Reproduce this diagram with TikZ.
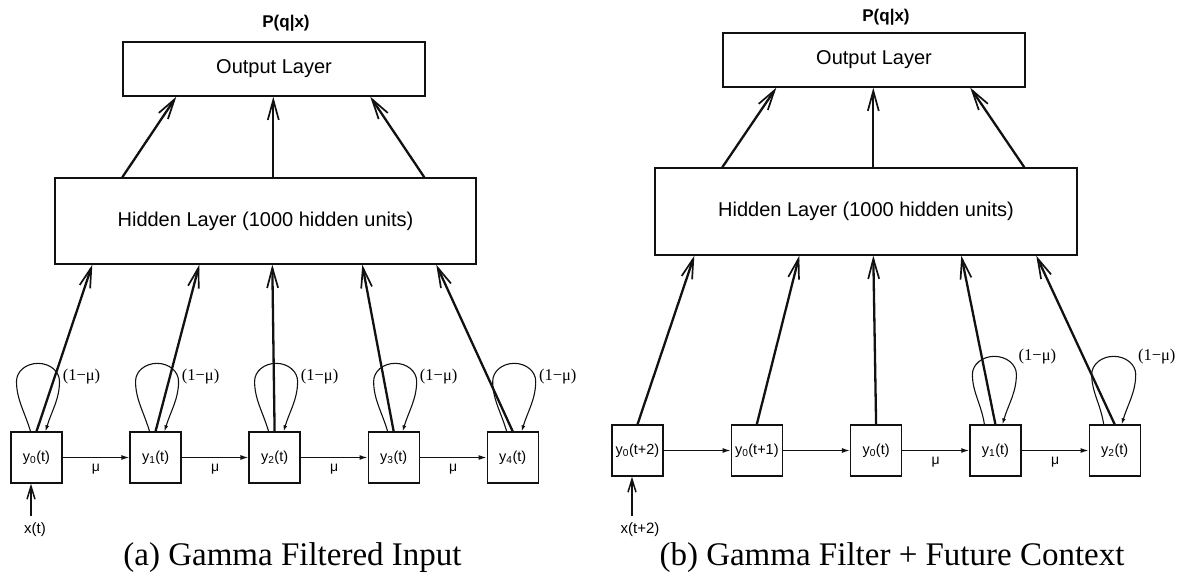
\documentclass[tikz,border=0pt]{standalone}
\usepackage{fontspec}
\setmainfont{Liberation Serif}
\setsansfont{Liberation Sans}
\usepackage{xcolor}
\definecolor{cInk}{HTML}{111111}
\usepackage{tikz}
\usetikzlibrary{positioning,arrows.meta}
\tikzset{
  layer-box/.style={draw=cInk,line width=1.4pt,inner sep=0pt,
    font=\sffamily\fontsize{20}{24}\selectfont},
  unit-box/.style={draw=cInk,line width=1.3pt,minimum size=51pt,inner sep=0pt,
    font=\sffamily\fontsize{14.5}{16}\selectfont},
  lbl-top/.style={font=\sffamily\bfseries\fontsize{17}{20}\selectfont},
  lbl-in/.style={font=\sffamily\fontsize{15}{18}\selectfont},
  lbl-mu/.style={font=\sffamily\fontsize{14}{15}\selectfont,inner sep=1pt},
  lbl-decay/.style={font=\fontsize{16.5}{18}\selectfont,inner sep=0pt},
  lbl-cap/.style={font=\fontsize{33}{38}\selectfont,inner sep=0pt,anchor=base},
  arrow-feed/.style={-{Straight Barb[length=20pt,width=11pt,line width=1.7pt]},
    line width=2.3pt,draw=cInk},
  arrow-in/.style={-{Straight Barb[length=13pt,width=8pt,line width=1.5pt]},
    line width=1.7pt,draw=cInk},
  arrow-delay/.style={-{Latex[length=8pt,width=5pt]},line width=1.3pt,draw=cInk},
  arrow-self/.style={-{Latex[length=6pt,width=4pt]},line width=1.1pt,draw=cInk},
}

\begin{document}
\begin{tikzpicture}[x=1pt,y=-1pt]
  \useasboundingbox (0,0) rectangle (1178,580);

  % (a) gamma filtered input
  \node[lbl-top] (pqa) at (286,23) {P(q|x)};
  \node[layer-box,minimum width=302pt,minimum height=54pt] (outa) at (274,69) {Output Layer};
  \node[layer-box,minimum width=421pt,minimum height=86pt] (hida) at (265.5,221)
    {Hidden Layer (1000 hidden units)};
  \node[unit-box] (y0a) at (36.5,457.5) {y\textsubscript{0}(t)};
  \node[unit-box,right=66.75pt of y0a] (y1a) {y\textsubscript{1}(t)};
  \node[unit-box,right=66.75pt of y1a] (y2a) {y\textsubscript{2}(t)};
  \node[unit-box,right=66.75pt of y2a] (y3a) {y\textsubscript{3}(t)};
  \node[unit-box,right=66.75pt of y3a] (y4a) {y\textsubscript{4}(t)};
  \node[lbl-in] (xa) at (35,530) {x(t)};
  \node[lbl-cap] (capa) at (292.5,565) {(a) Gamma Filtered Input};

  \foreach \s/\e in {68/54,219/151,370/248}
    \draw[arrow-feed] ([xshift=\s pt]hida.north west) -- ([xshift=\e pt]outa.south west);
  \foreach \u/\o in {y0a/38,y1a/145,y2a/218,y3a/308,y4a/382}
    \draw[arrow-feed] (\u.north) -- ([xshift=\o pt]hida.south west);
  \draw[arrow-delay] (y0a) -- node[lbl-mu,below=5pt] (m1a) {μ} (y1a);
  \draw[arrow-delay] (y1a) -- node[lbl-mu,below=5pt] (m2a) {μ} (y2a);
  \draw[arrow-delay] (y2a) -- node[lbl-mu,below=5pt] (m3a) {μ} (y3a);
  \draw[arrow-delay] (y3a) -- node[lbl-mu,below=5pt] (m4a) {μ} (y4a);
  \draw[arrow-in] ([xshift=-4pt,yshift=3pt]xa.north) -- ([xshift=-5.5pt]y0a.south);
  % self loops: teardrop, feet at -6/+9 from the box middle
  \foreach \u in {y0a,y1a,y2a,y3a,y4a} {
    \draw[arrow-self] ([xshift=-6pt]\u.north)
      .. controls +(-6,-20) and +(0,18) .. ([xshift=-20pt,yshift=50pt]\u.north)
      .. controls +(0,-10) and +(-12,0) .. ([xshift=1.5pt,yshift=68pt]\u.north)
      .. controls +(12,0) and +(0,-10) .. ([xshift=23pt,yshift=50pt]\u.north)
      .. controls +(0,18) and +(6,-20) .. ([xshift=9pt]\u.north);
    \node[lbl-decay] (d\u) at ([xshift=45pt,yshift=55pt]\u.north) {(1−μ)};
  }

  % (b) gamma filter + future context
  \node[lbl-top] (pqb) at (886,17) {P(q|x)};
  \node[layer-box,minimum width=302pt,minimum height=54pt] (outb) at (874,60) {Output Layer};
  \node[layer-box,minimum width=422pt,minimum height=87pt] (hidb) at (866,211.5)
    {Hidden Layer (1000 hidden units)};
  \node[unit-box] (y0b) at (637.5,450.5) {y\textsubscript{0}(t+2)};
  \node[unit-box,right=67pt of y0b] (y1b) {y\textsubscript{0}(t+1)};
  \node[unit-box,right=67pt of y1b] (y2b) {y\textsubscript{0}(t)};
  \node[unit-box,right=67pt of y2b] (y3b) {y\textsubscript{1}(t)};
  \node[unit-box,right=67pt of y3b] (y4b) {y\textsubscript{2}(t)};
  \node[lbl-in] (xb) at (640,530) {x(t+2)};
  \node[lbl-cap] (capb) at (892,565) {(b) Gamma Filter + Future Context};

  \foreach \s/\e in {68/54,219/151,370/248}
    \draw[arrow-feed] ([xshift=\s pt]hidb.north west) -- ([xshift=\e pt]outb.south west);
  \foreach \u/\o in {y0b/40,y1b/145,y2b/219,y3b/307,y4b/382}
    \draw[arrow-feed] (\u.north) -- ([xshift=\o pt]hidb.south west);
  \draw[arrow-delay] (y0b) -- (y1b);
  \draw[arrow-delay] (y1b) -- (y2b);
  \draw[arrow-delay] (y2b) -- node[lbl-mu,below=5pt] (m3b) {μ} (y3b);
  \draw[arrow-delay] (y3b) -- node[lbl-mu,below=5pt] (m4b) {μ} (y4b);
  \draw[arrow-in] ([xshift=-8pt,yshift=3pt]xb.north) -- ([xshift=-5.5pt]y0b.south);
  \foreach \u in {y3b,y4b} {
    \draw[arrow-self] ([xshift=-11pt]\u.north)
      .. controls +(-3,-20) and +(0,18) .. ([xshift=-23pt,yshift=50pt]\u.north)
      .. controls +(0,-10) and +(-12,0) .. ([xshift=-1pt,yshift=68pt]\u.north)
      .. controls +(12,0) and +(0,-10) .. ([xshift=21pt,yshift=50pt]\u.north)
      .. controls +(0,18) and +(6,-20) .. ([xshift=7pt]\u.north);
    \node[lbl-decay] (d\u) at ([xshift=42pt,yshift=68pt]\u.north) {(1−μ)};
  }
\end{tikzpicture}
\end{document}
